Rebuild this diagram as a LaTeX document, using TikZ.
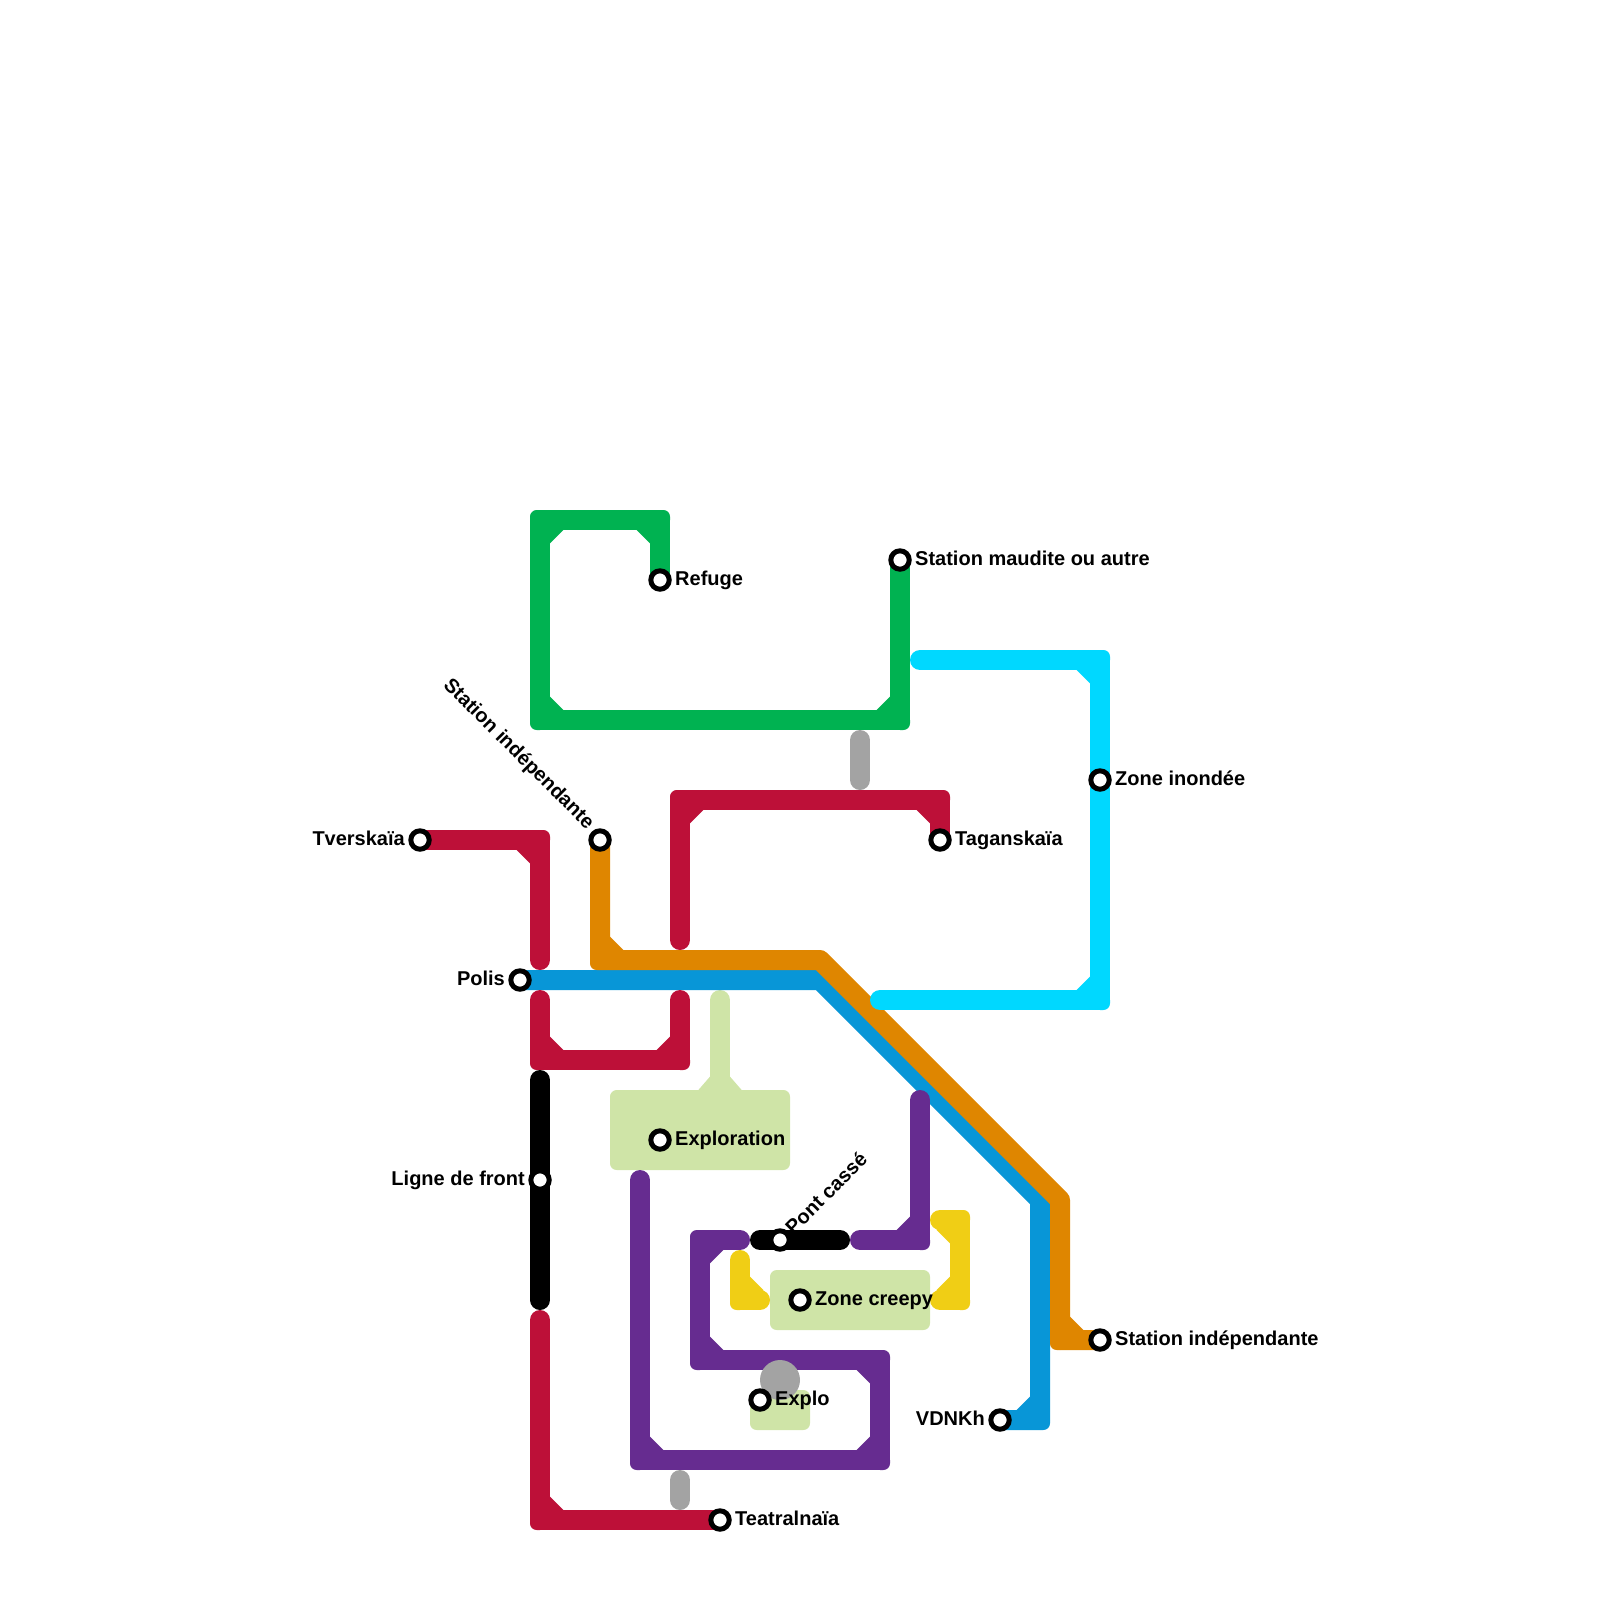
\documentclass[tikz,border=0pt]{standalone}
\usepackage{fontspec}
\setmainfont{Liberation Sans}
\usetikzlibrary{positioning,backgrounds}

\definecolor{rouge}{HTML}{BD1038}
\definecolor{vert}{HTML}{00B251}
\definecolor{bleu}{HTML}{0896D7}
\definecolor{orange}{HTML}{DF8600}
\definecolor{violet}{HTML}{662C90}
\definecolor{jaune}{HTML}{F0CE15}
\definecolor{pale}{HTML}{CFE4A7}
\definecolor{cyan}{HTML}{00D8FF}
\definecolor{gris}{HTML}{A3A3A3}

\tikzset{
  ligne/.style={line width=10pt,line cap=round,line join=round},
  zone/.style={fill=pale,rounded corners=3.33pt},
  station/.style={circle,draw=black,fill=white,line width=2.5pt,minimum size=9.2pt,inner sep=0pt,outer sep=0pt},
  etiquette/.style={inner sep=0pt,outer sep=0pt,font=\bfseries\fontsize{10}{10}\selectfont,text height=7pt,text depth=2pt}
}

% coude : biseau interieur et angle exterieur arrondi
\newcommand{\coude}[4]{
  \fill[#1,shift={(#2)},xscale=#3,yscale=#4] (0,0) -- (1.167,0) -- (1.167,.5) -- (.5,1.167) -- (0,1.167) -- cycle;
  \fill[#1,shift={(#2)},xscale=#3,yscale=#4] (0,0) -- (-.5,0) [rounded corners=3.33pt] -- (-.5,-.5) [sharp corners] -- (0,-.5) -- cycle;
}

\begin{document}
\begin{tikzpicture}[x=10pt,y=-10pt,node distance=3pt]
\useasboundingbox (0,0) rectangle (80,80);

% les stations
\node[station] (refuge) at (33,29) {};
\node[station] (maudite) at (45,28) {};
\node[station] (inondee) at (55,39) {};
\node[station] (tverskaia) at (21,42) {};
\node[station] (independanteA) at (30,42) {};
\node[station] (taganskaia) at (47,42) {};
\node[station] (polis) at (26,49) {};
\node[station] (exploration) at (33,57) {};
\node[station] (front) at (27,59) {};
\node[station] (pont) at (39,62) {};
\node[station] (creepy) at (40,65) {};
\node[station] (independanteB) at (55,67) {};
\node[station] (explo) at (38,70) {};
\node[station] (vdnkh) at (50,71) {};
\node[station] (teatralnaia) at (36,76) {};

\node[etiquette,right=of refuge] (refugeT) {Refuge};
\node[etiquette,right=of maudite] (mauditeT) {Station maudite ou autre};
\node[etiquette,right=of inondee] (inondeeT) {Zone inondée};
\node[etiquette,left=of tverskaia] (tverskaiaT) {Tverskaïa};
\node[etiquette,right=of taganskaia] (taganskaiaT) {Taganskaïa};
\node[etiquette,left=of polis] (polisT) {Polis};
\node[etiquette,right=of exploration] (explorationT) {Exploration};
\node[etiquette,left=of front] (frontT) {Ligne de front};
\node[etiquette,right=of creepy] (creepyT) {Zone creepy};
\node[etiquette,right=of independanteB] (independanteBT) {Station indépendante};
\node[etiquette,right=of explo] (exploT) {Explo};
\node[etiquette,left=of vdnkh] (vdnkhT) {VDNKh};
\node[etiquette,right=of teatralnaia] (teatralnaiaT) {Teatralnaïa};
\node[etiquette,xshift=-5pt,yshift=6.8pt,rotate=-45,anchor=east] (independanteAT) at (independanteA) {Station indépendante};
\node[etiquette,xshift=5.1pt,yshift=4pt,rotate=45,anchor=west] (pontT) at (pont) {Pont cassé};

% les points des lignes
\foreach \nom/\x/\y in {vA/33/26,vB/27/26,vC/27/36,vD/45/36,
    cDebut/46/33,cA/55/33,cB/55/50,cFin/44/50,
    rDebut/34/47,rA/34/40,rB/47/40,
    sA/27/42,sFin/27/48,
    uDebut/27/50,uA/27/53,uB/34/53,uFin/34/50,
    tDebut/27/66,tA/27/76,
    oA/30/48,oB/41/48,oC/53/60,oD/53/67,
    bA/41/49,bB/52/60,bC/52/71,
    nDebut/27/54,nFin/27/65,mDebut/38/62,mFin/42/62,
    pDebut/32/59,pA/32/73,pB/44/73,pC/44/68,pD/35/68,pE/35/62,pFin/37/62,
    qDebut/43/62,qA/46/62,qFin/46/55,
    jDebut/37/63,jA/37/65,jFin/38/65,
    kDebut/47/61,kA/48/61,kB/48/65,kFin/47/65,
    aDebut/43/37,aFin/43/39,dDebut/34/74,dFin/34/75,
    fDebut/36/50,fFin/36/54.5,halo/39/69}
  \coordinate (\nom) at (\x,\y);

\begin{scope}[on background layer]
  % les zones
  \draw[ligne,pale] (fDebut) -- (fFin);
  \fill[pale] (35.5,53.83) -- (34.83,54.6) -- (37.17,54.6) -- (36.5,53.83) -- cycle;
  \fill[zone] (30.5,54.5) rectangle (39.5,58.5);
  \fill[zone] (38.5,63.5) rectangle (46.5,66.5);
  \fill[zone] (37.5,69.5) rectangle (40.5,71.5);

  % les lignes
  \draw[ligne,bleu] (polis.center) -- (bA) -- (bB) -- (bC) -- (vdnkh.center);
  \coude{bleu}{bC}{-1}{-1}

  \draw[ligne,orange] (independanteA.center) -- (oA) -- (oB) -- (oC) -- (oD) -- (independanteB.center);
  \foreach \coin in {oA,oD}
    {\coude{orange}{\coin}{1}{-1}}

  \draw[ligne,vert] (refuge.center) -- (vA) -- (vB) -- (vC) -- (vD) -- (maudite.center);
  \foreach \coin/\sx/\sy in {vA/-1/1,vB/1/1,vC/1/-1,vD/-1/-1}
    {\coude{vert}{\coin}{\sx}{\sy}}

  \draw[ligne,cyan] (cDebut) -- (cA) -- (inondee.center) -- (cB) -- (cFin);
  \foreach \coin/\sx/\sy in {cA/-1/1,cB/-1/-1}
    {\coude{cyan}{\coin}{\sx}{\sy}}

  \draw[ligne,rouge] (rDebut) -- (rA) -- (rB) -- (taganskaia.center);
  \draw[ligne,rouge] (tverskaia.center) -- (sA) -- (sFin);
  \draw[ligne,rouge] (uDebut) -- (uA) -- (uB) -- (uFin);
  \draw[ligne,rouge] (tDebut) -- (tA) -- (teatralnaia.center);
  \foreach \coin/\sx/\sy in {rA/1/1,rB/-1/1,sA/-1/1,uA/1/-1,uB/-1/-1,tA/1/-1}
    {\coude{rouge}{\coin}{\sx}{\sy}}

  \draw[ligne,black] (nDebut) -- (front.center) -- (nFin);
  \draw[ligne,black] (mDebut) -- (pont.center) -- (mFin);

  \draw[ligne,violet] (pDebut) -- (pA) -- (pB) -- (pC) -- (pD) -- (pE) -- (pFin);
  \draw[ligne,violet] (qDebut) -- (qA) -- (qFin);
  \foreach \coin/\sx/\sy in {pA/1/-1,pB/-1/-1,pC/-1/1,pD/1/-1,pE/1/1,qA/-1/-1}
    {\coude{violet}{\coin}{\sx}{\sy}}

  \draw[ligne,jaune] (jDebut) -- (jA) -- (jFin);
  \draw[ligne,jaune] (kDebut) -- (kA) -- (kB) -- (kFin);
  \foreach \coin/\sx/\sy in {jA/1/-1,kA/-1/1,kB/-1/-1}
    {\coude{jaune}{\coin}{\sx}{\sy}}

  \draw[ligne,gris] (aDebut) -- (aFin);
  \draw[ligne,gris] (dDebut) -- (dFin);
  \fill[gris] (halo) circle (1);
\end{scope}
\end{tikzpicture}
\end{document}
